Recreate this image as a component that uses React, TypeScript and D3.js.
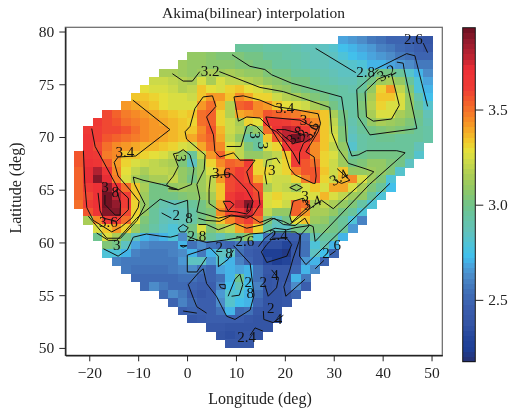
import React, { useRef, useEffect } from 'react';
import * as d3 from 'd3';

const width = 510;
const height = 411;

// grid of the interpolated map: each row is one latitude band, from the north, starting at rowStart
const rowStart = [28, 17, 12, 11, 9, 8, 7, 6, 5, 3, 2, 1, 1, 1, 0, 0, 0, 0, 0, 0, 0, 1, 1, 2, 2, 3, 3, 4, 5, 6, 7, 9, 10, 11, 12, 14, 15, 16];

const row00 = [2.68, 2.66, 2.62, 2.58, 2.55, 2.5, 2.48, 2.45, 2.42, 2.38];
const row01 = [2.97, 2.96, 2.95, 2.94, 2.92, 2.92, 2.9, 2.88, 2.87, 2.85, 2.82, 2.75, 2.72, 2.68, 2.65, 2.6, 2.58, 2.52, 2.5, 2.47, 2.42];
const row02 = [3.1, 3.09, 3.07, 3.05, 3.03, 3.05, 3.02, 3.0, 2.97, 2.95, 2.93, 2.92, 2.9, 2.88, 2.87, 2.85, 2.8, 2.73, 2.7, 2.68, 2.66, 2.62, 2.58, 2.55, 2.5, 2.5];
const row03 = [3.12, 3.1, 3.08, 3.07, 3.06, 3.07, 3.05, 3.05, 3.02, 3.0, 2.97, 2.95, 2.93, 2.9, 2.88, 2.87, 2.86, 2.85, 2.82, 2.78, 2.72, 2.7, 2.68, 2.65, 2.62, 2.58, 2.58];
const row04 = [3.15, 3.15, 3.13, 3.1, 3.12, 3.14, 3.13, 3.15, 3.13, 3.1, 3.08, 3.05, 3.02, 3.0, 2.97, 2.95, 2.92, 2.9, 2.88, 2.86, 2.85, 2.85, 2.92, 3.0, 3.0, 2.95, 2.82, 2.72, 2.62];
const row05 = [3.24, 3.22, 3.2, 3.17, 3.15, 3.25, 3.16, 3.27, 3.2, 3.2, 3.18, 3.15, 3.1, 3.07, 3.05, 3.02, 3.0, 2.97, 2.93, 2.9, 2.88, 2.87, 2.92, 3.02, 3.12, 3.15, 3.08, 2.95, 2.78, 2.68];
const row06 = [3.28, 3.27, 3.25, 3.22, 3.18, 3.2, 3.33, 3.28, 3.25, 3.3, 3.35, 3.28, 3.25, 3.2, 3.12, 3.08, 3.05, 3.02, 2.98, 2.97, 2.95, 2.92, 2.9, 2.97, 3.1, 3.3, 3.42, 3.2, 3.05, 2.8, 2.72];
const row07 = [3.35, 3.33, 3.3, 3.28, 3.25, 3.25, 3.22, 3.35, 3.42, 3.43, 3.35, 3.45, 3.4, 3.3, 3.3, 3.22, 3.18, 3.15, 3.1, 3.05, 3.02, 2.97, 2.93, 2.93, 3.02, 3.15, 3.33, 3.33, 3.25, 3.1, 2.9, 2.75];
const row08 = [3.42, 3.4, 3.38, 3.33, 3.28, 3.25, 3.25, 3.25, 3.42, 3.5, 3.38, 3.18, 3.52, 3.55, 3.45, 3.42, 3.35, 3.28, 3.27, 3.22, 3.15, 3.1, 3.0, 2.93, 2.93, 3.03, 3.18, 3.32, 3.25, 3.25, 3.1, 2.95, 2.82];
const row09 = [3.58, 3.52, 3.47, 3.45, 3.42, 3.4, 3.38, 3.33, 3.32, 3.33, 3.5, 3.52, 3.32, 3.17, 3.4, 3.42, 3.45, 3.55, 3.52, 3.5, 3.48, 3.42, 3.4, 3.33, 3.15, 3.0, 2.92, 3.02, 3.15, 3.27, 3.25, 3.15, 3.08, 3.0, 2.88];
const row10 = [3.63, 3.58, 3.55, 3.5, 3.48, 3.45, 3.42, 3.4, 3.38, 3.33, 3.3, 3.5, 3.53, 3.3, 3.22, 3.15, 3.3, 3.28, 3.65, 3.65, 3.62, 3.6, 3.55, 3.45, 3.35, 3.2, 3.02, 2.9, 2.98, 3.08, 3.15, 3.12, 3.1, 3.05, 2.98, 2.9];
const row11 = [3.65, 3.62, 3.6, 3.6, 3.55, 3.5, 3.45, 3.42, 3.42, 3.38, 3.35, 3.33, 3.45, 3.55, 3.38, 3.22, 3.18, 3.05, 3.08, 3.5, 3.7, 3.78, 3.75, 3.62, 3.5, 3.33, 3.22, 3.03, 2.87, 2.95, 3.0, 3.05, 3.07, 3.05, 3.0, 2.95, 2.92];
const row12 = [3.66, 3.62, 3.55, 3.52, 3.5, 3.48, 3.45, 3.42, 3.4, 3.36, 3.33, 3.4, 3.47, 3.53, 3.4, 3.2, 3.1, 2.93, 2.95, 3.35, 3.55, 3.78, 3.92, 3.8, 3.52, 3.33, 3.25, 3.05, 2.85, 2.93, 2.96, 2.98, 2.98, 2.97, 2.96, 2.95, 2.93];
const row13 = [3.68, 3.6, 3.5, 3.45, 3.42, 3.4, 3.38, 3.37, 3.35, 3.3, 3.25, 3.22, 3.4, 3.5, 3.45, 3.25, 3.2, 3.05, 2.95, 3.25, 3.3, 3.65, 3.72, 3.65, 3.45, 3.33, 3.2, 3.1, 2.83, 2.93, 2.95, 2.96, 2.96, 2.96, 2.95, 2.88];
const row14 = [3.55, 3.68, 3.65, 3.48, 3.45, 3.35, 3.33, 3.3, 3.28, 3.25, 3.2, 3.1, 2.95, 3.2, 3.42, 3.52, 3.35, 3.2, 3.1, 3.08, 3.15, 3.2, 3.35, 3.65, 3.62, 3.45, 3.3, 3.25, 3.12, 2.95, 2.98, 3.0, 3.0, 3.0, 3.0, 2.95, 2.82];
const row15 = [3.55, 3.7, 3.68, 3.55, 3.42, 3.3, 3.25, 3.22, 3.2, 3.18, 3.15, 3.05, 2.85, 3.12, 3.3, 3.45, 3.52, 3.5, 3.62, 3.3, 3.2, 3.25, 3.3, 3.62, 3.55, 3.5, 3.3, 3.22, 3.13, 3.0, 3.05, 3.08, 3.08, 3.05, 3.0, 2.85];
const row16 = [3.53, 3.72, 3.82, 3.68, 3.45, 3.28, 3.2, 3.15, 3.2, 3.2, 3.18, 3.1, 3.05, 3.12, 3.25, 3.4, 3.55, 3.62, 3.6, 3.3, 3.3, 3.25, 3.3, 3.48, 3.55, 3.55, 3.33, 3.22, 3.35, 3.1, 3.1, 3.12, 3.1, 3.05, 2.82];
const row17 = [3.52, 3.72, 3.88, 3.72, 3.47, 3.25, 3.15, 3.1, 3.15, 3.15, 3.2, 3.1, 3.02, 3.12, 3.2, 3.42, 3.6, 3.62, 3.6, 3.4, 3.25, 3.22, 3.22, 3.3, 3.48, 3.55, 3.3, 3.22, 3.38, 3.45, 3.25, 3.12, 3.03, 2.8];
const row18 = [3.53, 3.65, 3.7, 3.85, 3.7, 3.5, 3.33, 3.15, 3.02, 3.02, 3.08, 3.12, 3.1, 3.12, 3.2, 3.35, 3.6, 3.65, 3.65, 3.55, 3.15, 3.22, 3.2, 3.12, 3.25, 3.33, 3.25, 3.4, 3.4, 3.25, 3.15, 3.05, 2.95, 2.75];
const row19 = [3.53, 3.6, 3.7, 3.92, 3.78, 3.62, 3.33, 3.12, 3.0, 3.0, 3.02, 3.05, 3.07, 3.1, 3.15, 3.35, 3.65, 3.72, 3.7, 3.6, 3.25, 3.3, 3.27, 3.27, 3.27, 3.27, 3.38, 3.25, 3.2, 3.12, 3.08, 2.95, 2.78];
const row20 = [3.5, 3.62, 3.7, 3.93, 3.85, 3.62, 3.3, 3.1, 2.98, 2.9, 2.88, 2.9, 2.95, 3.02, 3.1, 3.4, 3.65, 3.75, 3.88, 3.72, 3.25, 3.28, 3.22, 3.52, 3.5, 3.15, 3.2, 3.15, 3.1, 3.05, 2.92, 2.78];
const row21 = [3.55, 3.68, 3.88, 3.88, 3.6, 3.3, 3.1, 2.97, 2.88, 2.85, 2.88, 2.92, 3.0, 3.05, 3.45, 3.6, 3.68, 3.75, 3.6, 3.2, 3.1, 3.1, 3.52, 3.42, 3.15, 3.15, 3.1, 3.02, 2.95, 2.78];
const row22 = [3.15, 3.45, 3.65, 3.65, 3.5, 3.28, 3.05, 2.95, 2.87, 2.84, 2.87, 2.92, 3.02, 3.1, 3.35, 3.45, 3.55, 3.62, 3.5, 3.05, 2.88, 3.0, 3.28, 3.33, 3.12, 3.1, 3.02, 2.95, 2.8, 2.6];
const row23 = [3.25, 3.33, 3.42, 3.3, 3.12, 3.0, 2.92, 2.85, 2.8, 2.85, 3.0, 3.25, 3.05, 3.15, 3.2, 3.4, 3.5, 3.3, 2.95, 2.85, 2.85, 3.0, 3.0, 3.05, 3.05, 3.0, 2.95, 2.65];
const row24 = [2.98, 3.25, 3.15, 3.0, 2.85, 2.72, 2.68, 2.72, 2.78, 2.62, 2.95, 3.1, 2.95, 2.88, 2.95, 3.02, 3.1, 2.8, 2.55, 2.45, 2.45, 2.45, 2.58, 2.9, 2.97, 2.95, 2.72];
const row25 = [3.05, 3.02, 2.85, 2.68, 2.62, 2.6, 2.6, 2.6, 2.7, 2.55, 2.62, 2.55, 2.52, 2.5, 2.58, 2.48, 2.45, 2.35, 2.35, 2.3, 2.38, 2.55, 2.8, 2.9, 2.7];
const row26 = [2.78, 2.8, 2.72, 2.6, 2.58, 2.58, 2.58, 2.6, 2.62, 2.72, 2.58, 2.72, 2.85, 2.85, 2.55, 2.45, 2.4, 2.25, 2.25, 2.22, 2.4, 2.55, 2.85, 2.75, 2.5];
const row27 = [2.6, 2.58, 2.57, 2.57, 2.57, 2.57, 2.58, 2.65, 2.85, 2.85, 2.65, 2.82, 2.72, 2.6, 2.48, 2.42, 2.32, 2.25, 2.3, 2.42, 2.65, 2.72, 2.48];
const row28 = [2.56, 2.55, 2.55, 2.55, 2.55, 2.56, 2.6, 2.62, 2.55, 2.5, 2.68, 2.7, 2.68, 2.72, 2.55, 2.4, 2.4, 2.42, 2.5, 2.72, 2.62];
const row29 = [2.52, 2.52, 2.52, 2.53, 2.53, 2.55, 2.55, 2.5, 2.48, 2.55, 2.72, 2.98, 2.72, 2.55, 2.38, 2.4, 2.42, 2.72, 2.58];
const row30 = [2.52, 2.62, 2.58, 2.53, 2.53, 2.5, 2.47, 2.47, 2.6, 2.75, 2.88, 2.75, 2.6, 2.38, 2.4, 2.45, 2.63, 2.47];
const row31 = [2.52, 2.62, 2.57, 2.47, 2.42, 2.45, 2.65, 2.82, 2.78, 2.72, 2.55, 2.37, 2.38, 2.42, 2.5];
const row32 = [2.48, 2.6, 2.53, 2.47, 2.47, 2.62, 2.82, 2.75, 2.72, 2.5, 2.38, 2.38, 2.4];
const row33 = [2.45, 2.5, 2.47, 2.47, 2.55, 2.72, 2.52, 2.55, 2.4, 2.37, 2.37];
const row34 = [2.42, 2.43, 2.45, 2.47, 2.47, 2.45, 2.42, 2.38, 2.37, 2.37];
const row35 = [2.42, 2.42, 2.38, 2.38, 2.37, 2.37, 2.37];
const row36 = [2.37, 2.35, 2.38, 2.4, 2.38];
const row37 = [2.42, 2.42, 2.4];

const rows = [row00, row01, row02, row03, row04, row05, row06, row07, row08, row09, row10, row11, row12, row13, row14, row15, row16, row17, row18, row19, row20, row21, row22, row23, row24, row25, row26, row27, row28, row29, row30, row31, row32, row33, row34, row35, row36, row37];

const lonStart = -23.14;
const lonStep = 1.932;
const latStart = 79.6;
const latStep = 0.778;

// contour lines in [lon, lat]
const contourLeft34 = [[-11.1, 73.5], [-3.5, 70.7], [-10.5, 68.2], [-14.1, 68.1], [-14.9, 67.6], [-14.1, 66.3], [-11.7, 65.0], [-9.8, 63.9], [-10, 63.3], [-11.3, 62.3], [-13.4, 61.5], [-15.4, 61.0], [-19.2, 62.1], [-20.5, 63.3], [-20.9, 65.5], [-21.2, 68.7]];
const contourLeft36 = [[-19.5, 70.8], [-18.8, 69.1], [-14.1, 65.1], [-12, 64.2], [-12, 63.1], [-14.4, 62], [-17.1, 62.3], [-17.8, 63], [-18.2, 64.7]];
const contourLeft38 = [[-16.8, 64.5], [-16.8, 63.6], [-14.7, 62.6], [-13.7, 62.6], [-13.6, 63.7], [-14.4, 65], [-15.1, 64.7]];
const contourLeft32 = [[-20.2, 62.5], [-16.4, 60.4], [-13.6, 60.4], [-10.2, 62.1], [-8.6, 63.6], [-10.7, 65.5], [-11, 66.2], [-9, 65.9], [-5.2, 65.5], [-2.3, 65.1], [-1.8, 65], [-3.8, 65.1]];
const contourLeft30 = [[-18.5, 60.9], [-16.1, 60.2], [-14.4, 60.2], [-13.4, 60.7], [-10.3, 62.3], [-5.5, 64.1], [-2.5, 63.6], [0.1, 64.0], [0.25, 62.3]];
const contourLeft28 = [[-17.1, 59.4], [-14.1, 58.7], [-12.2, 59.3], [-11, 60.5], [-8.3, 60.8], [-5.5, 60.6], [-3.4, 60.5], [-1.8, 60.7]];
const contourShort28 = [[-5.2, 62.8], [-3.2, 62.3]];
const contourLoop32 = [[-1.8, 61.35], [-0.8, 61.7], [0.25, 61.4], [-0.4, 61], [-1.4, 61], [-1.8, 61.35]];
const contourTop32a = [[-3.0, 76.0], [-0.8, 75.3], [1.1, 75.3], [2.6, 76.2]];
const contourTop32b = [[6.6, 76.2], [14.9, 74.7], [19.7, 74.3], [29.2, 72.8], [29.6, 70.4], [30.9, 68.9], [33, 67.5], [36.4, 67.0], [38.2, 66.7], [35.4, 65.5], [29.9, 63.2], [27.5, 64.0], [25.1, 63.2], [22.7, 62.3], [21, 61.7], [19.7, 62], [17.3, 62.3], [14.9, 61.9], [12.86, 62.5], [8.8, 62.5], [6.7, 62], [3.7, 62.1], [2.3, 62.3]];
const contourLong30 = [[2.3, 61.7], [4, 61.7], [6.4, 61.2], [9.8, 61.8], [12.2, 61.35], [15.6, 61.7], [17.8, 62.3], [19.7, 61.7], [22.1, 61.6], [24.1, 62.3], [24.8, 61.7], [25.8, 61.5], [26.2, 60.1], [37.3, 65.5], [44.6, 68.5], [42.9, 68.7], [36.7, 68.7], [35, 68.3], [33.7, 68.2], [32.6, 69.6], [32.3, 71.6], [31.6, 73.8], [21.4, 75.1], [17.3, 75.9], [15.9, 76.4], [12.86, 76.7], [9.2, 77.8]];
const contourLong26 = [[0.05, 60.6], [1.95, 60.25], [4, 60], [8.1, 60.25], [11.2, 60.5], [12.86, 60.8], [15.6, 60.9], [18, 61.35], [20.4, 61.2], [22.1, 61.4], [25, 61.6], [23.2, 60.7], [23, 58.7], [24.3, 57.9], [41.5, 65.6]];
const contourPatch34 = [[21.7, 63.9], [21, 62.5], [21.4, 61.9], [22.7, 62.5], [24.8, 63.4], [23.8, 64.2], [21.7, 63.9]];
const contourDiamond = [[21, 65.2], [22.4, 65.5], [23.6, 65.2], [22.4, 64.9], [21, 65.2]];
const contourEast34 = [[30.7, 67], [33.3, 65.9], [31.6, 65.6], [30.2, 65.9]];
const contourLobe34 = [[2, 65.5], [3.5, 66.9], [3.7, 68.3], [-0.1, 69.8], [-0.4, 70.5], [0.6, 71], [1.6, 72.7], [3.3, 73.8], [5.2, 73.9], [5.9, 72.9], [4, 71.9], [5.4, 70.2], [5.7, 68.6], [6.7, 68.1], [9.5, 68.5], [10.8, 67.8], [13.9, 67.8], [12.2, 66.7], [12.9, 65.6], [14.6, 64.8], [14.9, 63.6], [13.5, 62.6], [12.2, 62.3], [9.1, 62.6], [6.4, 62.3], [4.3, 62.6], [2, 62.9], [2.6, 64.2], [2, 65.5]];
const contourCentre36 = [[4.8, 66.3], [9.1, 66.5], [11.2, 65.5], [12.2, 65], [13.5, 63.9], [12.9, 63], [12.2, 62.7], [10.1, 62.9], [6.7, 63], [4.5, 63.7], [4.5, 65], [4.8, 66.3]];
const contourCentre38 = [[7.4, 63.9], [8.4, 63], [9.6, 63.6], [8.8, 63.9], [7.4, 63.9]];
const contourSliver38 = [[12.5, 63.7], [12.2, 62.9], [12.7, 63.1]];
const contourPocket30 = [[-2.8, 68.4], [-1.8, 68.5], [-0.8, 68.8], [0.6, 68.3], [1.4, 67], [0.9, 65.5], [-1.8, 65], [-3.2, 65.1], [-4.2, 65.5], [-2.8, 66.3], [-1.8, 67.2], [-2.3, 67.8], [-2.8, 68.4]];
const contourMid30 = [[8.1, 69.1], [11, 69.1], [12.2, 71], [13, 71.2], [14.2, 71], [15.9, 70.2]];
const contourMid32 = [[19, 67.5], [18.3, 68], [16.3, 67.8], [15.9, 66.6], [16.3, 65.5]];
const contourNorth34 = [[9.6, 73.8], [10.5, 71.5], [12.2, 71.9], [14.9, 71.8], [17.3, 70.7], [19.7, 68.9], [20, 68.5], [21, 67], [22.1, 66.4], [25.8, 65.6], [26.2, 65.6], [26.4, 66.3], [26, 68.1], [24.3, 68.6], [26.8, 70.5], [27.3, 71.3], [26.8, 72.2], [22.1, 72.6], [18, 72.9], [14.9, 73.5], [11.5, 73.9], [9.6, 73.8]];
const contourNorth36 = [[16.1, 71.9], [23.1, 71.6], [25.1, 71.1], [26.8, 71], [25.8, 70], [23.8, 69.4], [23, 68.5], [23, 67.4], [21.7, 68.5], [20, 69.6], [18.3, 70.5], [17, 70.8], [16.1, 71.9]];
const contourNorth38 = [[18.3, 70.7], [20, 70.7], [24.1, 70.2], [23.8, 69.6], [21.7, 69.4], [20, 70], [18.3, 70.7]];
const contourEast30 = [[42.9, 77.1], [44.2, 77], [44.4, 76.4], [47, 70.8], [37.4, 70.2], [35, 71.9], [34.7, 74.5], [37.4, 75.6], [39.1, 76.4]];
const contourEast32 = [[36.4, 74.3], [36.7, 71.9], [38.1, 71.5], [41.8, 71.7], [43.4, 73], [41.8, 76], [39.1, 75.5], [36.4, 74.3]];
const contourEast28 = [[38.4, 76.4], [44.9, 77.9], [46.6, 77.7], [48, 75.1], [49.2, 72.9]];
const contourEast28b = [[26.3, 78.4], [34.5, 76.1]];
const contourCorner26 = [[48.3, 78.9], [49.2, 78]];
const contourSouth24 = [[9.5, 59.7], [12.9, 58], [13.7, 55], [12.9, 53.6], [9.8, 52.7], [8.1, 53], [6, 54.9], [4, 56.1], [3.3, 57.5], [2.3, 57.1], [0.25, 56], [1.3, 54.7], [2, 53.9], [4, 53.3]];
const contourSouth24b = [[-0.8, 53.5], [2, 53.3]];
const contourBox28 = [[9.5, 59.3], [8.4, 58.4], [6.4, 57.7], [6.4, 58.7], [4.7, 59.5], [0.05, 58.8], [0.05, 57.2], [2, 57.2], [4, 58.6]];
const contourIsle28 = [[8.4, 54.9], [9.8, 56.5], [10.8, 57], [11.4, 56], [10.7, 55], [9.1, 54.9]];
const contourTri28 = [[6.6, 56], [7.8, 56], [7.8, 55.6], [6.9, 55.7], [6.6, 56]];
const contourDeep = [[15.2, 59.1], [16.3, 59.8], [17.6, 60.4], [20.4, 60.4], [21.4, 59.8], [20.4, 58.7], [16.3, 58.1], [15.2, 59.1]];
const contourEdge24 = [[24.1, 56.5], [20.2, 54.9], [19.8, 55.8], [20.9, 57.2], [21.7, 58.5], [22.9, 60.1], [23.1, 60.7], [22.1, 61], [17.6, 61], [15.9, 60.4], [14.6, 59.6]];
const contourSq1 = [[17.3, 57.4], [18.7, 56.6], [18.3, 55.7], [16.6, 54.9], [15.9, 56]];
const contourSq2 = [[15.6, 53.5], [15.7, 52.7], [17.6, 52.4], [19.7, 53.1]];
const contourSq3 = [[12.9, 51.2], [13.9, 51.9], [15.5, 51.6]];
const contourSq4 = [[26.2, 57.5], [28, 58.3]];
const contourSq5 = [[29.2, 58.8], [30.4, 59.2]];
const contourSpot = [[-1.4, 59.7], [0, 59.7], [-0.8, 59.55], [-1.4, 59.7]];

const contourLines = [contourLeft34, contourLeft36, contourLeft38, contourLeft32, contourLeft30, contourLeft28, contourShort28, contourLoop32, contourTop32a, contourTop32b, contourLong30, contourLong26, contourPatch34, contourDiamond, contourEast34, contourLobe34, contourCentre36, contourCentre38, contourSliver38, contourPocket30, contourMid30, contourMid32, contourNorth34, contourNorth36, contourNorth38, contourEast30, contourEast32, contourEast28, contourEast28b, contourCorner26, contourSouth24, contourSouth24b, contourBox28, contourIsle28, contourTri28, contourDeep, contourEdge24, contourSq1, contourSq2, contourSq3, contourSq4, contourSq5, contourSpot];

// inline contour labels: lon, lat, text, rotation
const contourLabels: [number, number, string, number][] = [
    [4.7, 76.3, '3.2', 0], [20, 72.8, '3.4', 0], [36.5, 76.2, '2.8', 0], [40.8, 76.1, '3.2', -30], [46.3, 79.3, '2.6', 0],
    [-12.7, 68.6, '3.4', 0], [7, 66.6, '3.6', 0], [-1.1, 68, '3', 90], [23.8, 71.6, '3', 0], [22.1, 70.2, '3.8', -45],
    [25.3, 70.6, '3.6', -60], [13.9, 70.2, '3', 90], [15.6, 69.2, '3', 90], [17.3, 66.9, '3', 0], [-16.8, 65.3, '3', 0],
    [-14.7, 64.8, '8', 0], [-16.1, 62, '3.6', 0], [-14.4, 59.8, '3', 0], [-2.2, 62.6, '2', 0], [0.4, 62.3, '8', 0],
    [2, 60.6, '2.8', 0], [6.6, 59.6, '2', 0], [8.6, 59, '8', 0], [11.8, 60.2, '2.6', 0], [18.7, 60.7, '2.4', 0],
    [12.5, 56.3, '2', 0], [12.9, 55.2, '8', 0], [12.2, 51.1, '2.4', 0], [15.6, 56.3, '2', 0], [18, 56.9, '4', 0],
    [17.1, 53.8, '2', 0], [18.7, 52.8, '4', 0], [25.5, 63.8, '3.4', -20], [24.1, 64.4, '3', 0], [28.4, 59, '2', 0],
    [30.7, 59.8, '6', 0], [31, 66.2, '3.4', -30]
];

const xTicks = [-20, -10, 0, 10, 20, 30, 40, 50];
const yTicks = [50, 55, 60, 65, 70, 75, 80];
const barTicks = [2.5, 3.0, 3.5];

const stopValues = [2.175, 2.245, 2.3, 2.385, 2.47, 2.56, 2.63, 2.68, 2.73, 2.79, 2.86, 2.945, 3.0, 3.07, 3.14, 3.225, 3.28, 3.33, 3.38, 3.435, 3.49, 3.55, 3.61, 3.715, 3.77, 3.82, 3.87, 3.93];
const stopColors = ['#27306f', '#1f3f96', '#24459a', '#3556a6', '#3b5fae', '#4274ba', '#4c8dca', '#4aa3dc', '#40c0ee', '#4ec3d8', '#62c2bc', '#68c4a0', '#70c48a', '#8cc76a', '#a5cc58', '#c9d94a', '#e4e23c', '#f0cb2c', '#f4b128', '#f79125', '#f4762a', '#f25a2c', '#ef3d35', '#ed2f36', '#c22532', '#aa2030', '#8f1a2c', '#6a1020'];

const vMin = 2.175;
const vMax = 3.93;
const levels = 64;

const App = () => {
    const svgRef = useRef<SVGSVGElement>(null);

    useEffect(() => {
        const fontFamily = '"Liberation Serif", serif';
        const svg = d3.select(svgRef.current);
        svg.selectAll('*').remove();

        const x = d3.scaleLinear().domain([-24.9, 52.2]).range([65.3, 442.3]);
        const y = d3.scaleLinear().domain([49.3, 80.4]).range([355.3, 27.3]);
        const bar = d3.scaleLinear().domain([vMin, vMax]).range([361.7, 27.7]);

        const ramp = d3.scaleLinear<string>().domain(stopValues).range(stopColors).interpolate(d3.interpolateRgb);
        const color = (v: number) => {
            const k = Math.min(levels - 1, Math.floor(((v - vMin) / (vMax - vMin)) * levels));
            return ramp(vMin + ((k + 0.5) / levels) * (vMax - vMin));
        };

        // heat map cells
        rows.forEach((row, j) => {
            svg.append('g')
                .attr('shape-rendering', 'crispEdges')
                .selectAll('rect')
                .data(row)
                .enter()
                .append('rect')
                .attr('x', (d, i) => x(lonStart + (rowStart[j] + i) * lonStep))
                .attr('y', y(latStart - j * latStep))
                .attr('width', (d, i) => x(lonStart + (rowStart[j] + i + 1) * lonStep) - x(lonStart + (rowStart[j] + i) * lonStep) + 0.5)
                .attr('height', y(latStart - (j + 1) * latStep) - y(latStart - j * latStep) + 0.5)
                .attr('fill', (d) => color(d));
        });

        // contours
        const line = d3.line<number[]>().x((d) => x(d[0])).y((d) => y(d[1]));
        svg.append('g')
            .selectAll('path')
            .data(contourLines)
            .enter()
            .append('path')
            .attr('d', (d) => line(d))
            .attr('fill', 'none')
            .attr('stroke', '#111')
            .attr('stroke-width', 1);

        svg.append('g')
            .selectAll('text')
            .data(contourLabels)
            .enter()
            .append('text')
            .attr('transform', (d) => `translate(${x(d[0])},${y(d[1])}) rotate(${d[3]})`)
            .attr('text-anchor', 'middle')
            .attr('dy', '0.35em')
            .attr('font-family', fontFamily)
            .attr('font-size', 15)
            .attr('fill', '#111')
            .text((d) => d[2]);

        // frame
        svg.append('rect')
            .attr('x', 65.3)
            .attr('y', 27.3)
            .attr('width', 377)
            .attr('height', 328)
            .attr('fill', 'none')
            .attr('stroke', '#666')
            .attr('stroke-width', 1.2);

        const styleAxis = (g: any) => {
            g.selectAll('text')
                .attr('font-family', fontFamily)
                .attr('font-size', 15.5)
                .attr('fill', '#222');
            g.selectAll('line').attr('stroke', '#222').attr('stroke-width', 1);
        };

        svg.append('g')
            .attr('transform', 'translate(0,355.3)')
            .call(d3.axisBottom(x).tickValues(xTicks).tickFormat(d3.format('d')).tickSize(6).tickPadding(6).tickSizeOuter(0))
            .call(styleAxis)
            .call((g: any) => g.select('.domain').attr('stroke', '#222').attr('stroke-width', 1.4));

        svg.append('g')
            .attr('transform', 'translate(65.3,0)')
            .call(d3.axisLeft(y).tickValues(yTicks).tickFormat(d3.format('d')).tickSize(6).tickPadding(5).tickSizeOuter(0))
            .call(styleAxis)
            .call((g: any) => g.select('.domain').attr('stroke', '#222').attr('stroke-width', 1.4));

        // colour bar
        const barStep = (vMax - vMin) / levels;
        svg.append('g')
            .attr('shape-rendering', 'crispEdges')
            .selectAll('rect')
            .data(d3.range(levels))
            .enter()
            .append('rect')
            .attr('x', 462.7)
            .attr('y', (k) => bar(vMin + (k + 1) * barStep))
            .attr('width', 12.6)
            .attr('height', bar(vMin) - bar(vMin + barStep) + 0.5)
            .attr('fill', (k) => color(vMin + (k + 0.5) * barStep));

        svg.append('rect')
            .attr('x', 462.7)
            .attr('y', 27.7)
            .attr('width', 12.6)
            .attr('height', 334)
            .attr('fill', 'none')
            .attr('stroke', '#111')
            .attr('stroke-width', 1);

        svg.append('g')
            .attr('transform', 'translate(475.3,0)')
            .call(d3.axisRight(bar).tickValues(barTicks).tickFormat(d3.format('.1f')).tickSize(8).tickPadding(5).tickSizeOuter(0))
            .call(styleAxis)
            .call((g: any) => g.select('.domain').remove());

        // titles
        svg.append('text')
            .attr('x', 253.5)
            .attr('y', 18)
            .attr('text-anchor', 'middle')
            .attr('font-family', fontFamily)
            .attr('font-size', 15.5)
            .attr('fill', '#222')
            .text('Akima(bilinear) interpolation');

        svg.append('text')
            .attr('x', 260)
            .attr('y', 404)
            .attr('text-anchor', 'middle')
            .attr('font-family', fontFamily)
            .attr('font-size', 16)
            .attr('fill', '#222')
            .text('Longitude (deg)');

        svg.append('text')
            .attr('transform', 'translate(21,188) rotate(-90)')
            .attr('text-anchor', 'middle')
            .attr('font-family', fontFamily)
            .attr('font-size', 16)
            .attr('fill', '#222')
            .text('Latitude (deg)');
    }, []);

    return (
        <svg ref={svgRef} width={width} height={height} style={{ position: 'fixed', left: 0, top: 0, display: 'block' }}></svg>
    );
};

export default App;
